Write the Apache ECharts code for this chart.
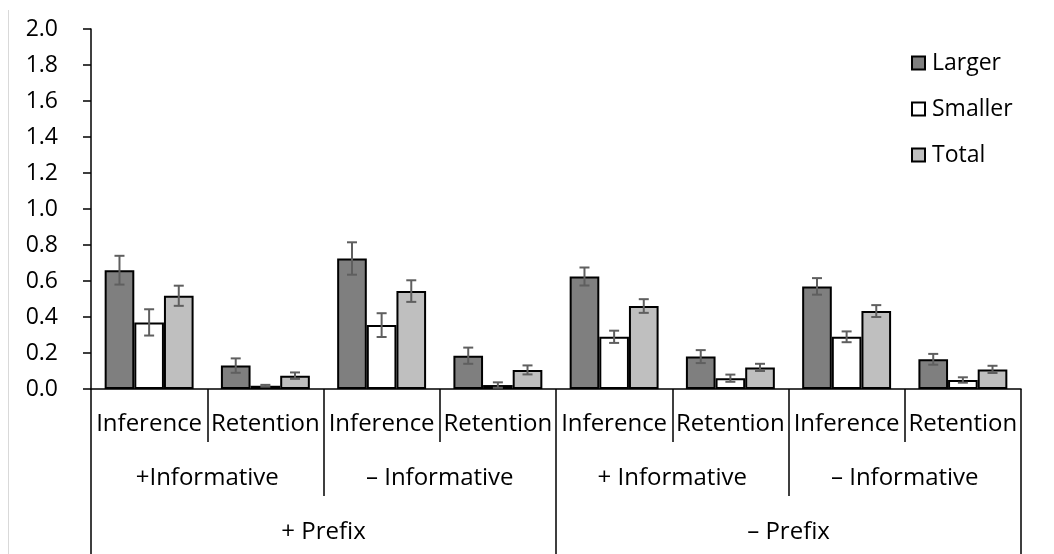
<!DOCTYPE html>
<html>
<head>
<meta charset="utf-8">
<script src="https://cdn.jsdelivr.net/npm/echarts@6/dist/echarts.min.js"></script>
<style>html,body{margin:0;padding:0;background:#fff}#c{width:1054px;height:554px}</style>
</head>
<body>
<div id="c"></div>
<script>
const categories = ['Inference','Retention','Inference','Retention','Inference','Retention','Inference','Retention'];
const informativeLabels = ['+Informative','– Informative','+ Informative','– Informative'];
const prefixLabels = ['+ Prefix','– Prefix'];
const seriesNames = ['Larger','Smaller','Total'];
const largerValues = [0.66, 0.13, 0.725, 0.185, 0.625, 0.18, 0.57, 0.165];
const largerErrors = [0.08, 0.04, 0.09, 0.045, 0.05, 0.036, 0.046, 0.03];
const smallerValues = [0.37, 0.018, 0.355, 0.022, 0.29, 0.06, 0.29, 0.05];
const smallerErrors = [0.073, 0.005, 0.066, 0.015, 0.034, 0.02, 0.03, 0.015];
const totalValues = [0.518, 0.074, 0.544, 0.106, 0.461, 0.12, 0.433, 0.109];
const totalErrors = [0.056, 0.018, 0.06, 0.025, 0.038, 0.02, 0.033, 0.02];
const yTicks = [0, 0.2, 0.4, 0.6, 0.8, 1.0, 1.2, 1.4, 1.6, 1.8, 2.0];

const colors = ['#7f7f7f', '#ffffff', '#bfbfbf'];
const valueSets = [largerValues, smallerValues, totalValues];
const errorSets = [largerErrors, smallerErrors, totalErrors];
const BAR_FRAC = 0.255;
const FONT = 'Open Sans';

const chart = echarts.init(document.getElementById('c'), null, {renderer: 'canvas'});

const barSeries = seriesNames.map((name, i) => ({
  name: name,
  type: 'bar',
  xAxisIndex: 0,
  data: valueSets[i],
  barWidth: (BAR_FRAC * 100) + '%',
  barGap: '0%',
  itemStyle: {color: colors[i], borderColor: '#000', borderWidth: 2},
  z: 2
}));

const errorSeries = seriesNames.map((name, i) => ({
  type: 'custom',
  xAxisIndex: 0,
  z: 5,
  silent: true,
  data: valueSets[i].map((v, k) => [k, v, errorSets[i][k]]),
  renderItem: function (params, api) {
    const k = api.value(0), v = api.value(1), e = api.value(2);
    const band = api.size([1, 0])[0];
    const off = (i - 1) * band * BAR_FRAC;
    const top = api.coord([k, v + e]);
    const bot = api.coord([k, Math.max(0, v - e)]);
    const x = top[0] + off;
    const cap = 5;
    const st = {stroke: '#5f5f5f', lineWidth: 2};
    return {
      type: 'group',
      children: [
        {type: 'line', shape: {x1: x, y1: top[1], x2: x, y2: bot[1]}, style: st},
        {type: 'line', shape: {x1: x - cap, y1: top[1], x2: x + cap, y2: top[1]}, style: st},
        {type: 'line', shape: {x1: x - cap, y1: bot[1], x2: x + cap, y2: bot[1]}, style: st}
      ]
    };
  }
}));

const option = {
  animation: false,
  backgroundColor: '#fff',
  textStyle: {fontFamily: FONT},
  grid: {left: 91, right: 33, top: 29, bottom: 165, containLabel: false},
  legend: {
    orient: 'vertical',
    left: 906,
    top: 46,
    itemWidth: 13,
    itemHeight: 13,
    itemGap: 22,
    icon: 'rect',
    data: seriesNames,
    textStyle: {fontFamily: FONT, fontSize: 23, color: '#000', lineHeight: 24, padding: [0, 0, 0, 2]}
  },
  graphic: [{
    type: 'line', shape: {x1: 8.5, y1: 10, x2: 8.5, y2: 554},
    style: {stroke: '#d9d9d9', lineWidth: 1}
  }],
  xAxis: [
    {
      type: 'category', data: categories, position: 'bottom',
      axisLine: {show: true, lineStyle: {color: '#000', width: 1.5}},
      axisTick: {show: true, interval: 0, length: 53, lineStyle: {color: '#000', width: 1.5}},
      axisLabel: {interval: 0, margin: 23, fontFamily: FONT, fontSize: 24, color: '#000'},
      splitLine: {show: false}
    },
    {
      type: 'category', data: informativeLabels, position: 'bottom', offset: 53,
      axisLine: {show: false},
      axisTick: {show: true, interval: 0, length: 54, lineStyle: {color: '#000', width: 1.5}},
      axisLabel: {interval: 0, margin: 24, fontFamily: FONT, fontSize: 24, color: '#000'},
      splitLine: {show: false}
    },
    {
      type: 'category', data: prefixLabels, position: 'bottom', offset: 107,
      axisLine: {show: false},
      axisTick: {show: true, interval: 0, length: 60, lineStyle: {color: '#000', width: 1.5}},
      axisLabel: {interval: 0, margin: 24, fontFamily: FONT, fontSize: 24, color: '#000'},
      splitLine: {show: false}
    }
  ],
  yAxis: {
    type: 'value', min: yTicks[0], max: yTicks[yTicks.length - 1], interval: 0.2,
    axisLine: {show: true, lineStyle: {color: '#000', width: 1.5}},
    axisTick: {show: true, length: 8, lineStyle: {color: '#000', width: 1.5}},
    axisLabel: {margin: 33, fontFamily: FONT, fontSize: 23, color: '#000', formatter: v => v.toFixed(1)},
    splitLine: {show: false}
  },
  series: barSeries.concat(errorSeries)
};
chart.setOption(option);
</script>
</body>
</html>
